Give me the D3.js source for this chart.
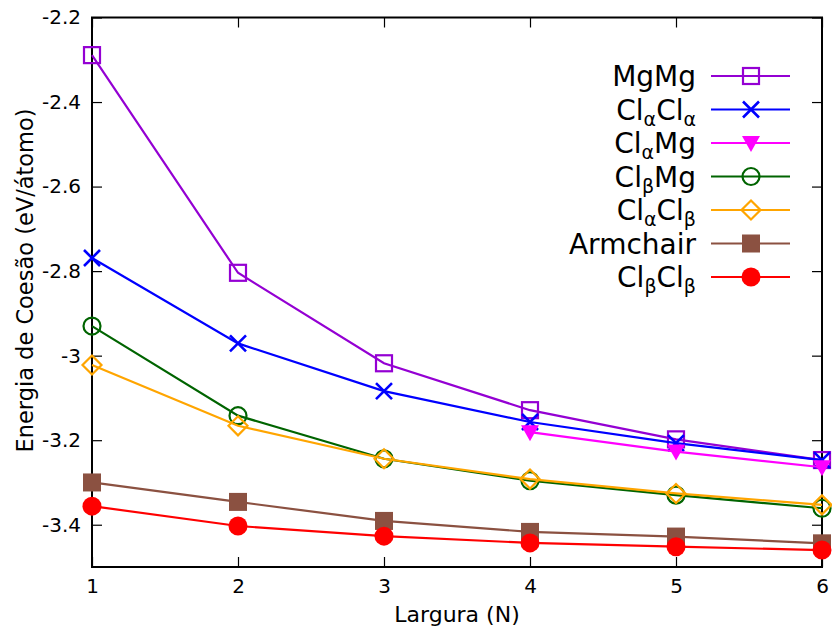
<!DOCTYPE html>
<html>
<head>
<meta charset="utf-8">
<script src="https://cdn.jsdelivr.net/npm/d3@7"></script>
<style>
  html, body { margin: 0; padding: 0; background: #fff; }
  svg { display: block; font-family: "DejaVu Sans", sans-serif; }
</style>
</head>
<body>
<svg id="chart" width="832" height="633"></svg>
<script>
// Cohesion energy per atom versus ribbon width
const widths = [1, 2, 3, 4, 5, 6];
const mgmg     = [-2.289, -2.804, -3.018, -3.129, -3.198, -3.247];
const clacla   = [-2.769, -2.971, -3.084, -3.157, -3.207, -3.247];
const clamgX   = [4, 5, 6];
const clamg    = [-3.181, -3.227, -3.264];
const clbmg    = [-2.930, -3.142, -3.244, -3.296, -3.330, -3.361];
const claclb   = [-3.022, -3.166, -3.244, -3.292, -3.326, -3.353];
const armchair = [-3.300, -3.346, -3.391, -3.417, -3.428, -3.444];
const clbclb   = [-3.356, -3.403, -3.427, -3.443, -3.452, -3.460];

const yTicks = [-2.2, -2.4, -2.6, -2.8, -3.0, -3.2, -3.4];
const yTickLabels = ["-2.2", "-2.4", "-2.6", "-2.8", "-3", "-3.2", "-3.4"];
const xTicks = [1, 2, 3, 4, 5, 6];

// legend label pieces: [text, isSubscript]
const series = [
  { label: [["MgMg", false]], xs: widths, ys: mgmg, color: "#9400d3", marker: "squareOpen" },
  { label: [["Cl", false], ["α", true], ["Cl", false], ["α", true]], xs: widths, ys: clacla, color: "#0000ff", marker: "cross" },
  { label: [["Cl", false], ["α", true], ["Mg", false]], xs: clamgX, ys: clamg, color: "#ff00ff", marker: "triDown" },
  { label: [["Cl", false], ["β", true], ["Mg", false]], xs: widths, ys: clbmg, color: "#006400", marker: "circleOpen" },
  { label: [["Cl", false], ["α", true], ["Cl", false], ["β", true]], xs: widths, ys: claclb, color: "#ffa500", marker: "diamondOpen" },
  { label: [["Armchair", false]], xs: widths, ys: armchair, color: "#8b5141", marker: "squareFilled" },
  { label: [["Cl", false], ["β", true], ["Cl", false], ["β", true]], xs: widths, ys: clbclb, color: "#ff0000", marker: "circleFilled" }
];

const svg = d3.select("#chart");
const pLeft = 92, pRight = 822, pTop = 17.5, pBottom = 567;

const x = d3.scaleLinear().domain([1, 6]).range([pLeft, pRight]);
const y = d3.scaleLinear().domain([-3.5, -2.2]).range([pBottom, pTop]);

// axes with inward ticks on all four sides
const axisStyle = g => {
  g.selectAll(".domain").remove();
  g.selectAll("line").attr("stroke", "#000").attr("stroke-width", 1.2);
  g.selectAll("text").attr("fill", "#000").style("font-size", "20px").style("font-family", "DejaVu Sans");
};

svg.append("g").attr("transform", `translate(${pLeft},0)`)
  .call(d3.axisLeft(y).tickValues(yTicks).tickSize(-10).tickPadding(11)
    .tickFormat((d, i) => yTickLabels[i]))
  .call(axisStyle);
svg.append("g").attr("transform", `translate(${pRight},0)`)
  .call(d3.axisRight(y).tickValues(yTicks).tickSize(-10).tickFormat(""))
  .call(axisStyle);
svg.append("g").attr("transform", `translate(0,${pBottom})`)
  .call(d3.axisBottom(x).tickValues(xTicks).tickSize(-10).tickPadding(12).tickFormat(d3.format("d")))
  .call(axisStyle);
svg.append("g").attr("transform", `translate(0,${pTop})`)
  .call(d3.axisTop(x).tickValues(xTicks).tickSize(-10).tickFormat(""))
  .call(axisStyle);

svg.append("rect")
  .attr("x", pLeft).attr("y", pTop)
  .attr("width", pRight - pLeft).attr("height", pBottom - pTop)
  .attr("fill", "none").attr("stroke", "#000").attr("stroke-width", 2);

// axis titles
svg.append("text")
  .attr("x", (pLeft + pRight) / 2).attr("y", 622)
  .attr("text-anchor", "middle")
  .style("font-size", "22px")
  .text("Largura (N)");
svg.append("text")
  .attr("transform", "translate(33,280.5) rotate(-90)")
  .attr("text-anchor", "middle")
  .style("font-size", "22.5px")
  .text("Energia de Coesão (eV/átomo)");

// marker drawing
function drawMarker(g, type, color, cx, cy) {
  const sw = 2.2;
  switch (type) {
    case "squareOpen":
      g.append("rect").attr("x", cx - 8).attr("y", cy - 8).attr("width", 16).attr("height", 16)
        .attr("fill", "none").attr("stroke", color).attr("stroke-width", sw);
      break;
    case "squareFilled":
      g.append("rect").attr("x", cx - 9).attr("y", cy - 9).attr("width", 18).attr("height", 18)
        .attr("fill", color).attr("stroke", "none");
      break;
    case "cross":
      g.append("path").attr("d", `M${cx - 8},${cy - 8}L${cx + 8},${cy + 8}M${cx - 8},${cy + 8}L${cx + 8},${cy - 8}`)
        .attr("fill", "none").attr("stroke", color).attr("stroke-width", sw + 0.4);
      break;
    case "triDown":
      g.append("path").attr("d", `M${cx - 9},${cy - 7}L${cx + 9},${cy - 7}L${cx},${cy + 9}Z`)
        .attr("fill", color).attr("stroke", "none");
      break;
    case "circleOpen":
      g.append("circle").attr("cx", cx).attr("cy", cy).attr("r", 8.5)
        .attr("fill", "none").attr("stroke", color).attr("stroke-width", sw);
      break;
    case "circleFilled":
      g.append("circle").attr("cx", cx).attr("cy", cy).attr("r", 9.5)
        .attr("fill", color).attr("stroke", "none");
      break;
    case "diamondOpen":
      g.append("path").attr("d", `M${cx},${cy - 9.5}L${cx + 9.5},${cy}L${cx},${cy + 9.5}L${cx - 9.5},${cy}Z`)
        .attr("fill", "none").attr("stroke", color).attr("stroke-width", sw);
      break;
  }
}

const line = d3.line().x(d => x(d[0])).y(d => y(d[1]));

series.forEach(s => {
  const g = svg.append("g");
  const pts = s.xs.map((xv, i) => [xv, s.ys[i]]);
  g.append("path").datum(pts).attr("d", line)
    .attr("fill", "none").attr("stroke", s.color).attr("stroke-width", 2.2);
  pts.forEach(p => drawMarker(g, s.marker, s.color, x(p[0]), y(p[1])));
});

// legend
const legX = 696, legY0 = 76, legDy = 33.5;
series.forEach((s, i) => {
  const ly = legY0 + i * legDy;
  const t = svg.append("text")
    .attr("x", legX).attr("y", ly + 10)
    .attr("text-anchor", "end")
    .style("font-size", "28px");
  let prevSub = false;
  s.label.forEach(([txt, sub]) => {
    const ts = t.append("tspan").text(txt);
    if (sub) {
      ts.attr("dy", prevSub ? 0 : 6).style("font-size", "19px");
    } else {
      ts.attr("dy", prevSub ? -6 : 0);
    }
    prevSub = sub;
  });
  const g = svg.append("g");
  g.append("line").attr("x1", 711).attr("x2", 790).attr("y1", ly).attr("y2", ly)
    .attr("stroke", s.color).attr("stroke-width", 2.2);
  drawMarker(g, s.marker, s.color, 751, ly);
});
</script>
</body>
</html>
